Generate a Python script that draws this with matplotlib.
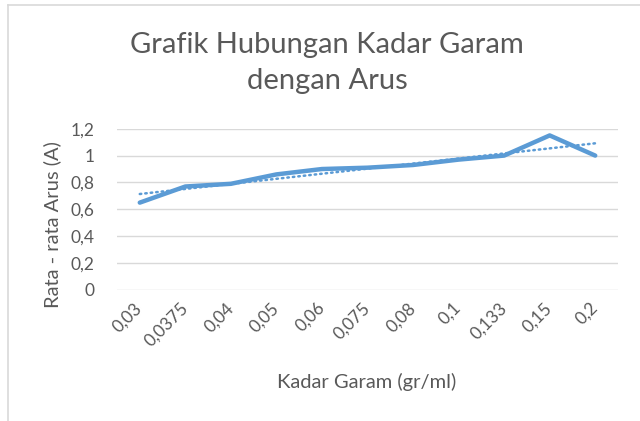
import numpy as np
import matplotlib.pyplot as plt
from matplotlib.lines import Line2D

# data
kadar = ['0,03', '0,0375', '0,04', '0,05', '0,06', '0,075', '0,08', '0,1', '0,133', '0,15', '0,2']
arus = [0.65, 0.77, 0.79, 0.86, 0.90, 0.91, 0.93, 0.97, 1.00, 1.15, 1.00]
y_ticks = [0, 0.2, 0.4, 0.6, 0.8, 1.0, 1.2]
y_tick_labels = ['0', '0,2', '0,4', '0,6', '0,8', '1', '1,2']

blue = '#5b9bd5'
grey_text = '#595959'
plt.rcParams['font.family'] = ['Lato', 'DejaVu Sans']

fig = plt.figure(figsize=(6.4, 4.21), dpi=100)
ax = fig.add_axes([117 / 640, 1 - 290 / 421, 501 / 640, (290 - 128.7) / 421])

x = np.arange(len(kadar))
ax.plot(x, arus, color=blue, linewidth=3.2, solid_capstyle='round', solid_joinstyle='round', zorder=3)

# linear trendline (like Excel)
k, b = np.polyfit(x, arus, 1)
ax.plot(x, k * x + b, color=blue, linewidth=1.8, linestyle=(0, (0.6, 1.6)),
        dash_capstyle='round', zorder=2)

ax.set_xlim(-0.5, len(kadar) - 0.5)
ax.set_ylim(0, 1.2)
ax.set_yticks(y_ticks)
ax.set_yticklabels(y_tick_labels)
ax.set_xticks(x)
ax.set_xticklabels(kadar, rotation=45, ha='right', va='center', rotation_mode='anchor')
ax.tick_params(length=0, colors=grey_text, labelsize=12.5)
ax.tick_params(axis='x', pad=11)
ax.tick_params(axis='y', pad=16)
ax.grid(axis='y', color='#d9d9d9', linewidth=1)
ax.set_axisbelow(True)
for s in ax.spines.values():
    s.set_visible(False)

fig.text(52 / 640, 1 - 225 / 421, 'Rata - rata Arus (A)', color=grey_text, fontsize=14.5,
         rotation=90, ha='center', va='center')
fig.text(367 / 640, 1 - 382 / 421, 'Kadar Garam (gr/ml)', color=grey_text, fontsize=14.5,
         ha='center', va='center')
fig.text(327 / 640, 1 - 63 / 421, 'Grafik Hubungan Kadar Garam\ndengan Arus', color=grey_text,
         fontsize=21, ha='center', va='center', linespacing=1.45)

# chart border (cropped screenshot: only top and left visible)
fig.add_artist(Line2D([8 / 640, 8 / 640], [0, 1 - 5 / 421], color='#d9d9d9', linewidth=1.2,
                      transform=fig.transFigure))
fig.add_artist(Line2D([8 / 640, 1], [1 - 5 / 421, 1 - 5 / 421], color='#d9d9d9', linewidth=1.2,
                      transform=fig.transFigure))

fig.savefig('out.png', dpi=100)
